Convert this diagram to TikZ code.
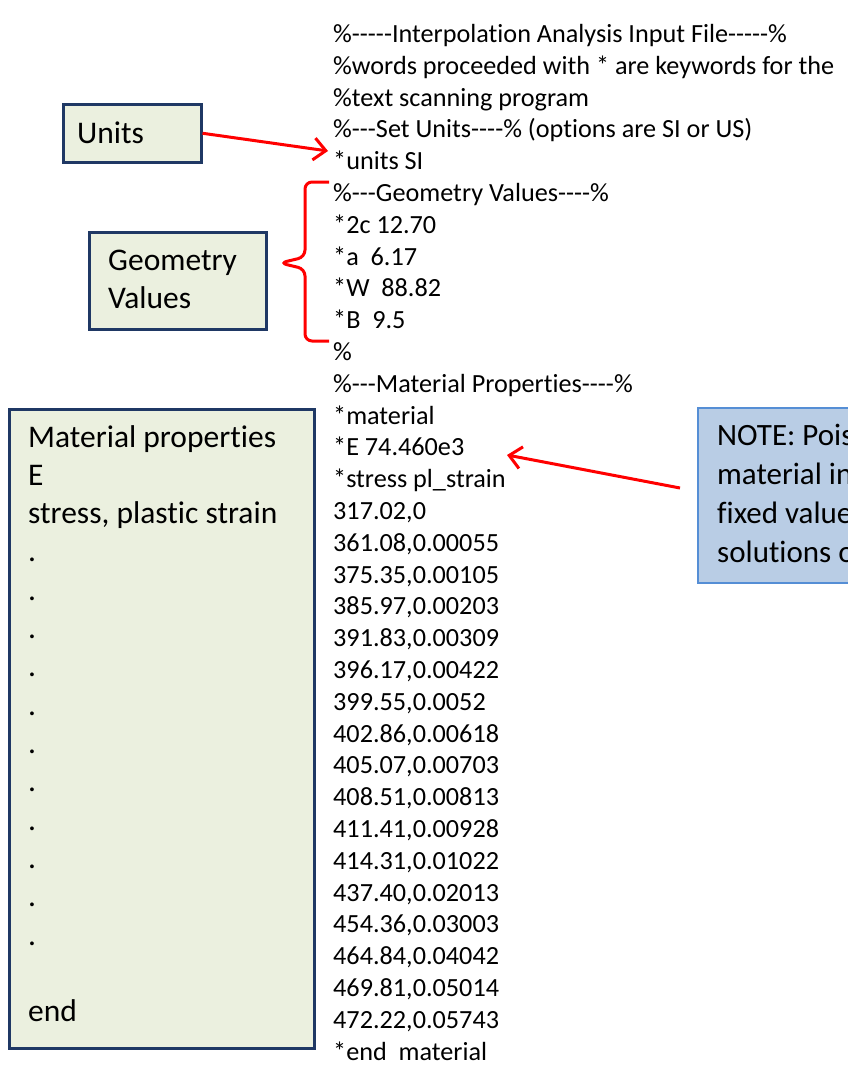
\documentclass[tikz,border=0pt]{standalone}
\usepackage{fontspec}
\setmainfont{Carlito}[Ligatures={TeXOff,CommonOff}]
\usetikzlibrary{arrows.meta}
\definecolor{boxfill}{HTML}{EBF0DF}
\definecolor{boxline}{HTML}{1F3864}
\definecolor{notefill}{HTML}{B9CDE5}
\definecolor{noteline}{HTML}{558ED5}
\definecolor{redline}{HTML}{FF0000}
\tikzset{
  greenbox/.style={draw=boxline, line width=2.5pt, fill=boxfill, inner sep=0pt, anchor=north west},
  notebox/.style={draw=noteline, line width=2pt, fill=notefill, inner sep=0pt, anchor=north west},
  codeline/.style={anchor=base west, inner sep=0pt, font=\fontsize{26.2}{32}\selectfont},
  boxtext/.style={anchor=base west, inner sep=0pt, font=\fontsize{31.5}{38}\selectfont},
  notetext/.style={anchor=base west, inner sep=0pt, font=\fontsize{31}{39}\selectfont},
  redarrow/.style={draw=redline, line width=3pt, -{Straight Barb[length=12pt, width=22pt, line width=3pt]}},
  redbrace/.style={draw=redline, line width=3pt, rounded corners=7pt}
}
\begin{document}
\begin{tikzpicture}[x=1pt, y=-1pt]
\useasboundingbox (0,0) rectangle (848,1068);
\clip (0,0) rectangle (848,1068);
\fill[white] (0,0) rectangle (848,1068);

% code column
\foreach \t [count=\i] in {
  {\%-----Interpolation Analysis Input File-----\%},
  {\%words proceeded with * are keywords for the},
  {\%text scanning program},
  {\%---Set Units----\% (options are SI or US)},
  {*units SI},
  {\%---Geometry Values----\%},
  {*2c 12.70},
  {*a~ 6.17},
  {*W~ 88.82},
  {*B~ 9.5},
  {\%},
  {\%---Material Properties----\%},
  {*material},
  {*E 74.460e3},
  {*stress pl\_strain},
  {317.02,0},
  {361.08,0.00055},
  {375.35,0.00105},
  {385.97,0.00203},
  {391.83,0.00309},
  {396.17,0.00422},
  {399.55,0.0052},
  {402.86,0.00618},
  {405.07,0.00703},
  {408.51,0.00813},
  {411.41,0.00928},
  {414.31,0.01022},
  {437.40,0.02013},
  {454.36,0.03003},
  {464.84,0.04042},
  {469.81,0.05014},
  {472.22,0.05743},
  {*end~ material}}
{
  \node[codeline] (l\i) at (333, {42.5+31.8*(\i-1)}) {\t};
}

% Units box
\node[greenbox, minimum width=138pt, minimum height=58pt] (units) at (62,103) {};
\node[boxtext] (unitst) at (77,143) {Units};

% Geometry box
\node[greenbox, minimum width=177pt, minimum height=97pt] (geom) at (88,231) {};
\node[boxtext] (geomt1) at (108,270) {Geometry};
\node[boxtext] (geomt2) at (108,308) {Values};

% Material box
\node[greenbox, minimum width=305pt, minimum height=639pt] (mat) at (8,408) {};
\foreach \t [count=\i] in {Material properties, E, {stress, plastic strain}, ., ., ., ., ., ., ., ., ., ., ., {}, end}
{
  \node[boxtext] (m\i) at (28, {447+38.33*(\i-1)}) {\t};
}

% Note box
\node[notebox, minimum width=200pt, minimum height=175pt] (note) at (697,407) {};
\node[notetext] (n1) at (717,445) {NOTE: Pois};
\node[notetext] (n2) at (717,484) {material in};
\node[notetext] (n3) at (717,523) {fixed value};
\node[notetext] (n4) at (717,562) {solutions o};

% connectors
\coordinate (uend) at (328,151);
\draw[redarrow] (units.east) -- (uend);

\coordinate (nstart) at (680,488);
\coordinate (nend) at (507,455);
\draw[redarrow] (nstart) -- (nend);

\coordinate (btop) at (329,182);
\coordinate (bbot) at (329,341);
\coordinate (btip) at (280,263);
\draw[redbrace] (btop) -- (305,182) -- (305,257) -- (btip) -- (305,269) -- (305,341) -- (bbot);
\end{tikzpicture}
\end{document}
